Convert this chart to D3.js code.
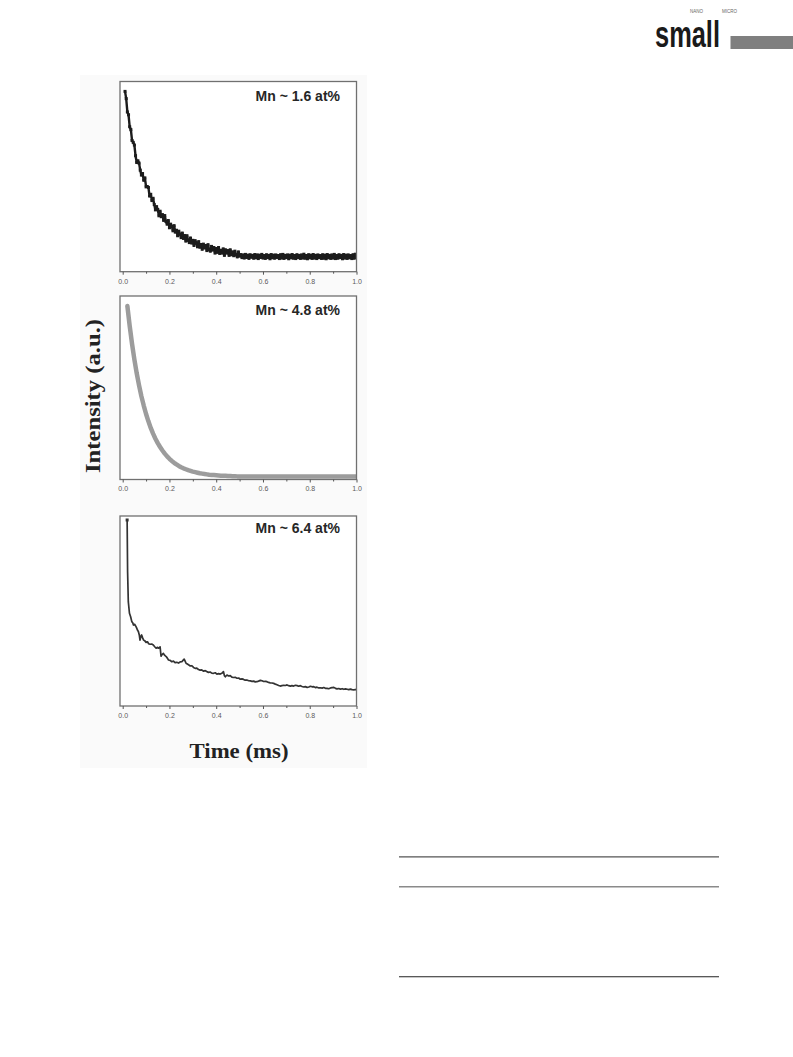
<!DOCTYPE html>
<html><head><meta charset="utf-8">
<script src="https://cdn.jsdelivr.net/npm/d3@7"></script>
<style>html,body{margin:0;padding:0;background:#fff;}svg{display:block;}</style>
</head><body>
<script>
// ---------- data ----------
const xTicksMajor = [0.0, 0.2, 0.4, 0.6, 0.8, 1.0];
const xTicksMinor = [0.1, 0.3, 0.5, 0.7, 0.9];
const panelLabels = ["Mn ~ 1.6 at%", "Mn ~ 4.8 at%", "Mn ~ 6.4 at%"];
const yTitle = "Intensity (a.u.)";
const xTitle = "Time (ms)";

// panel 1 (Mn 1.6 at%): start 0.010 ms, step 0.005 ms
const t1Start = 0.010, t1Step = 0.005;
const int1 = [
0.948,0.910,0.840,0.825,0.762,0.747,0.690,0.680,0.666,0.610,
0.574,0.583,0.571,0.534,0.508,0.516,0.481,0.493,0.446,0.448,
0.443,0.398,0.407,0.374,0.386,0.353,0.325,0.342,0.327,0.294,
0.318,0.289,0.300,0.270,0.295,0.264,0.250,0.269,0.231,0.250,
0.239,0.215,0.242,0.208,0.218,0.189,0.213,0.197,0.179,0.203,
0.175,0.190,0.161,0.189,0.165,0.153,0.177,0.151,0.165,0.138,
0.163,0.151,0.131,0.158,0.129,0.143,0.118,0.145,0.125,0.138,
0.111,0.142,0.115,0.108,0.133,0.114,0.127,0.098,0.122,0.102,
0.127,0.096,0.113,0.098,0.120,0.086,0.115,0.098,0.111,0.086,
0.115,0.089,0.104,0.084,0.108,0.088,0.078,0.104,0.082,
0.090,0.074,0.088,0.072,0.091,0.075,0.087,0.070,0.089,0.076,
0.086,0.071,0.090,0.073,0.088,0.069,0.087,0.075,0.091,0.072,
0.085,0.070,0.089,0.074,0.086,0.068,0.090,0.073,0.087,0.071,
0.088,0.075,0.085,0.069,0.089,0.072,0.091,0.070,0.086,0.074,
0.088,0.068,0.087,0.073,0.090,0.071,0.085,0.069,0.089,0.074,
0.086,0.070,0.088,0.072,0.092,0.071,0.085,0.068,0.089,0.073,
0.087,0.070,0.090,0.072,0.086,0.069,0.088,0.074,0.085,0.070,
0.089,0.071,0.087,0.068,0.090,0.073,0.086,0.070,0.088,0.072,
0.091,0.069,0.085,0.071,0.089,0.074,0.086,0.068,0.090,0.072,
0.087,0.070,0.088,0.073,0.085,0.069,0.089,0.071,0.092,0.074];

// panel 2 (Mn 4.8 at%): start 0.02 ms, step 0.01 ms
const t2Start = 0.02, t2Step = 0.01;
const int2 = [
0.945,0.836,0.739,0.654,0.579,0.513,0.454,0.403,0.357,0.317,
0.281,0.250,0.222,0.198,0.177,0.158,0.141,0.126,0.113,0.101,
0.091,0.082,0.074,0.067,0.061,0.056,0.051,0.047,0.043,0.040,
0.037,0.034,0.032,0.030,0.028,0.026,0.025,0.024,0.023,0.022,
0.021,0.020,0.020,0.019,0.019,0.018,0.018,0.017,0.017,0.017,
0.017,0.017,0.017,0.017,0.016,0.017,0.016,0.016,0.017,0.016,
0.016,0.016,0.016,0.016,0.016,0.016,0.016,0.016,0.016,0.016,
0.016,0.016,0.016,0.016,0.016,0.016,0.016,0.016,0.016,0.016,
0.016,0.016,0.016,0.016,0.016,0.016,0.016,0.016,0.016,0.016,
0.016,0.016,0.016,0.016,0.016,0.016,0.016,0.016,0.016];

// panel 3 (Mn 6.4 at%)
const time3 = [0.019,0.021,0.024,0.029,0.034,0.039,0.043,0.046,0.051,0.057,0.060,0.063,0.067,0.071,0.074,0.078,0.081,0.085,0.089,0.094,
0.100,0.106,0.111,0.117,0.124,0.131,0.137,0.143,0.149,0.154,0.160,0.164,0.169,0.174,0.180,0.186,0.191,0.196,0.203,0.210,
0.217,0.224,0.231,0.239,0.246,0.253,0.258,0.263,0.267,0.271,0.280,0.289,0.296,0.303,0.310,0.317,0.324,0.331,0.338,0.346,
0.353,0.360,0.367,0.374,0.381,0.389,0.396,0.403,0.410,0.417,0.424,0.431,0.435,0.439,0.446,0.453,0.460,0.467,0.474,0.481,
0.489,0.496,0.503,0.510,0.517,0.524,0.531,0.539,0.546,0.553,0.560,0.567,0.574,0.581,0.589,0.596,0.603,0.610,0.617,0.624,
0.631,0.639,0.646,0.653,0.660,0.667,0.674,0.681,0.689,0.696,0.703,0.710,0.717,0.724,0.731,0.739,0.746,0.753,0.760,0.767,
0.774,0.781,0.789,0.796,0.803,0.810,0.817,0.824,0.831,0.839,0.846,0.853,0.860,0.867,0.874,0.881,0.889,0.896,0.903,0.910,
0.917,0.924,0.931,0.939,0.946,0.953,0.960,0.967,0.974,0.981,0.989,0.996,1.000];
const int3 = [0.979,0.707,0.549,0.488,0.470,0.444,0.438,0.426,0.430,0.418,0.410,0.400,0.392,0.374,0.347,0.366,0.374,0.360,0.347,0.344,
0.335,0.338,0.328,0.325,0.326,0.321,0.312,0.304,0.309,0.304,0.311,0.262,0.272,0.277,0.266,0.260,0.252,0.242,0.240,0.233,
0.236,0.228,0.230,0.226,0.232,0.233,0.240,0.247,0.236,0.225,0.218,0.211,0.212,0.203,0.198,0.199,0.192,0.189,0.190,0.183,
0.186,0.181,0.177,0.179,0.173,0.172,0.175,0.168,0.170,0.168,0.172,0.181,0.160,0.154,0.163,0.158,0.160,0.152,0.150,0.151,
0.146,0.147,0.141,0.143,0.140,0.136,0.137,0.133,0.132,0.130,0.131,0.127,0.128,0.131,0.135,0.133,0.129,0.130,0.128,0.124,
0.122,0.121,0.119,0.115,0.112,0.108,0.105,0.107,0.109,0.108,0.111,0.107,0.105,0.107,0.105,0.109,0.107,0.104,0.107,0.103,
0.100,0.102,0.098,0.100,0.104,0.101,0.102,0.097,0.099,0.095,0.096,0.094,0.097,0.093,0.093,0.091,0.095,0.097,0.098,0.093,
0.090,0.092,0.089,0.091,0.088,0.090,0.088,0.086,0.089,0.086,0.085,0.087,0.084];

// ---------- drawing ----------
const W = 793, H = 1057;
const svg = d3.select("body").append("svg").attr("width", W).attr("height", H);

// figure background
svg.append("rect").attr("x", 80).attr("y", 75).attr("width", 287).attr("height", 693).attr("fill", "#fafafa");

const x = d3.scaleLinear().domain([-0.0115, 1.0]).range([120, 356.5]);

const panels = [
  {top: 81.5, bottom: 271.7, label: panelLabels[0], labelY: 101,
   data: int1.map((v, i) => ({t: t1Start + i * t1Step, v}))},
  {top: 296, bottom: 479.5, label: panelLabels[1], labelY: 315,
   data: int2.map((v, i) => ({t: t2Start + i * t2Step, v}))},
  {top: 516, bottom: 706, label: panelLabels[2], labelY: 532.5,
   data: time3.map((t, i) => ({t, v: int3[i]}))}
];

panels.forEach((p, k) => {
  const y = d3.scaleLinear().domain([0, 1]).range([p.bottom, p.top]);
  const g = svg.append("g");
  const clipId = "clip" + k;
  g.append("clipPath").attr("id", clipId).append("rect")
    .attr("x", x.range()[0]).attr("y", p.top)
    .attr("width", x.range()[1] - x.range()[0]).attr("height", p.bottom - p.top);
  g.append("rect").attr("x", x.range()[0]).attr("y", p.top)
    .attr("width", x.range()[1] - x.range()[0]).attr("height", p.bottom - p.top)
    .attr("fill", "#fff");

  const line = d3.line().x(d => x(d.t)).y(d => y(d.v));
  const plot = g.append("g").attr("clip-path", `url(#${clipId})`);
  if (k === 0) {
    plot.append("path").datum(p.data).attr("d", line)
      .attr("fill", "none").attr("stroke", "#1c1c1c").attr("stroke-width", 2.4)
      .attr("stroke-linejoin", "round");
    plot.selectAll("rect.pt").data(p.data).join("rect").attr("class", "pt")
      .attr("x", d => x(d.t) - 1.5).attr("y", d => y(d.v) - 1.5)
      .attr("width", 3).attr("height", 3).attr("fill", "#1c1c1c");
  } else if (k === 1) {
    plot.append("path").datum(p.data).attr("d", line)
      .attr("fill", "none").attr("stroke", "#9c9c9c").attr("stroke-width", 4.5)
      .attr("stroke-linecap", "round").attr("stroke-linejoin", "round");
  } else {
    plot.append("path").datum(p.data).attr("d", line)
      .attr("fill", "none").attr("stroke", "#333").attr("stroke-width", 1.7)
      .attr("stroke-linejoin", "round");
    plot.append("rect").attr("x", x(p.data[0].t) - 1.5).attr("y", y(p.data[0].v) - 1.5)
      .attr("width", 3).attr("height", 3).attr("fill", "#333");
  }

  // frame
  g.append("rect").attr("x", x.range()[0]).attr("y", p.top)
    .attr("width", x.range()[1] - x.range()[0]).attr("height", p.bottom - p.top)
    .attr("fill", "none").attr("stroke", "#707070").attr("stroke-width", 1.3);

  // axes
  const axMaj = d3.axisBottom(x).tickValues(xTicksMajor).tickSize(3).tickPadding(4)
    .tickFormat(d3.format(".1f"));
  const ga = g.append("g").attr("transform", `translate(0,${p.bottom})`).call(axMaj);
  ga.select(".domain").remove();
  ga.selectAll("line").attr("stroke", "#555").attr("stroke-width", 1);
  ga.selectAll("text").attr("font-family", "'Liberation Sans', Arial, sans-serif")
    .attr("font-size", 7).attr("fill", "#5a5a5a");
  const axMin = d3.axisBottom(x).tickValues(xTicksMinor).tickSize(2).tickFormat("");
  const gm = g.append("g").attr("transform", `translate(0,${p.bottom})`).call(axMin);
  gm.select(".domain").remove();
  gm.selectAll("line").attr("stroke", "#555").attr("stroke-width", 1);

  g.append("text").attr("x", 340).attr("y", p.labelY).attr("text-anchor", "end")
    .attr("font-family", "'Liberation Sans', Arial, sans-serif").attr("font-weight", "bold")
    .attr("font-size", 14).attr("fill", "#262626").text(p.label);
});

// axis titles
svg.append("text").attr("transform", "translate(100,396) rotate(-90)")
  .attr("text-anchor", "middle").attr("font-family", "'Liberation Serif', 'Times New Roman', serif")
  .attr("font-weight", "bold").attr("font-size", 22).attr("fill", "#222")
  .attr("textLength", 154).attr("lengthAdjust", "spacingAndGlyphs").text(yTitle);
svg.append("text").attr("x", 239).attr("y", 758).attr("text-anchor", "middle")
  .attr("font-family", "'Liberation Serif', 'Times New Roman', serif")
  .attr("font-weight", "bold").attr("font-size", 22).attr("fill", "#222")
  .attr("textLength", 99).attr("lengthAdjust", "spacingAndGlyphs").text(xTitle);

// journal header logo
svg.append("text").attr("x", 655).attr("y", 46.5)
  .attr("font-family", "'Liberation Sans Narrow', 'Liberation Sans', sans-serif")
  .attr("font-size", 36).attr("font-weight", "bold").attr("fill", "#1a1a1a")
  .attr("textLength", 65).attr("lengthAdjust", "spacingAndGlyphs").text("small");
svg.append("text").attr("x", 690).attr("y", 13).attr("font-family", "'Liberation Sans', sans-serif")
  .attr("font-size", 4.5).attr("fill", "#666").text("NANO");
svg.append("text").attr("x", 722).attr("y", 13).attr("font-family", "'Liberation Sans', sans-serif")
  .attr("font-size", 4.5).attr("fill", "#666").text("MICRO");
svg.append("rect").attr("x", 730.5).attr("y", 36).attr("width", 62.5).attr("height", 13).attr("fill", "#7f7f7f");

// table rules
svg.append("line").attr("x1", 399).attr("x2", 719).attr("y1", 856.8).attr("y2", 856.8).attr("stroke", "#555").attr("stroke-width", 1.2);
svg.append("line").attr("x1", 399).attr("x2", 719).attr("y1", 886.8).attr("y2", 886.8).attr("stroke", "#8a8a8a").attr("stroke-width", 1.6);
svg.append("line").attr("x1", 399).attr("x2", 719).attr("y1", 976.8).attr("y2", 976.8).attr("stroke", "#222").attr("stroke-width", 1.1);
</script>
</body></html>
